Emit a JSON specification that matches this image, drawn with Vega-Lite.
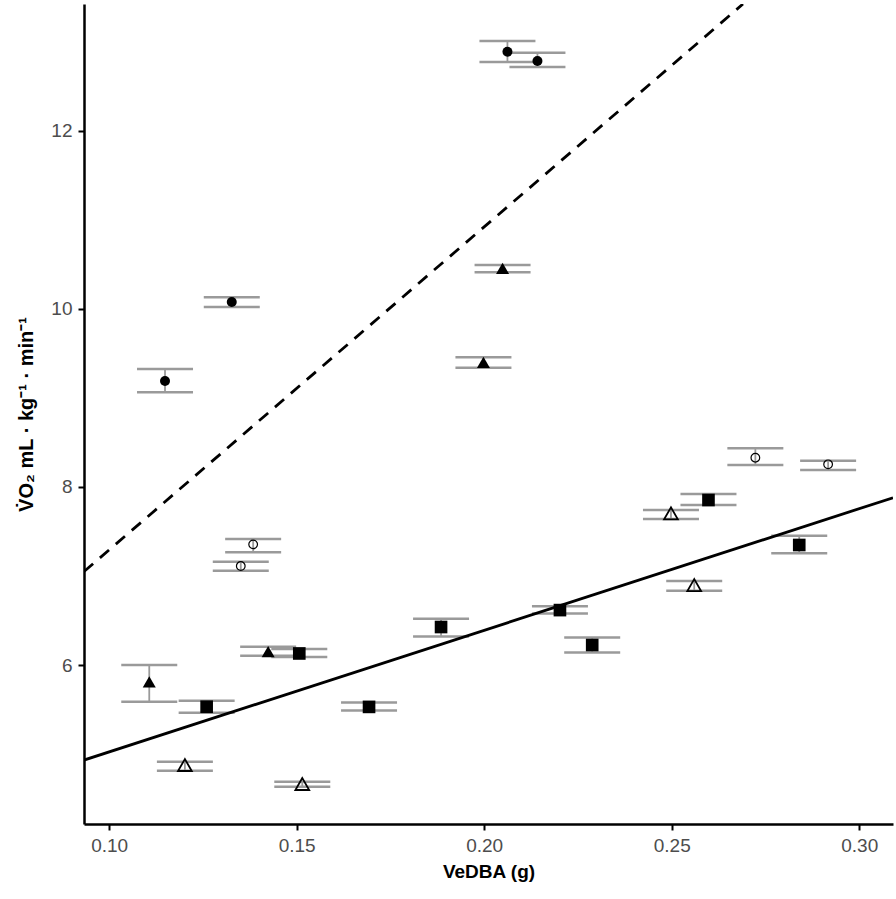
{
  "$schema": "https://vega.github.io/schema/vega-lite/v6.json",
  "width": 809,
  "height": 820,
  "autosize": {"type": "none"},
  "padding": {"left": 84, "top": 4, "right": 3, "bottom": 75},
  "background": "white",
  "config": {
    "view": {"stroke": null},
    "axis": {
      "grid": false,
      "domainColor": "black",
      "domainWidth": 2.5,
      "tickColor": "black",
      "tickWidth": 2,
      "tickSize": 6,
      "labelFont": "Liberation Sans",
      "labelFontSize": 19,
      "labelColor": "#4d4d4d",
      "titleFont": "Liberation Sans",
      "titleFontWeight": "bold",
      "titleFontSize": 19,
      "titleColor": "black"
    }
  },
  "datasets": {
    "pts": [
      {"group": "A", "x": 0.1149, "y": 9.19, "lo": 9.062, "hi": 9.324},
      {"group": "A", "x": 0.1327, "y": 10.076, "lo": 10.02, "hi": 10.13},
      {"group": "A", "x": 0.2062, "y": 12.887, "lo": 12.771, "hi": 13.007},
      {"group": "A", "x": 0.2142, "y": 12.783, "lo": 12.715, "hi": 12.876},
      {"group": "B", "x": 0.1107, "y": 5.81, "lo": 5.588, "hi": 6.0},
      {"group": "B", "x": 0.1424, "y": 6.15, "lo": 6.104, "hi": 6.205},
      {"group": "B", "x": 0.2049, "y": 10.455, "lo": 10.41, "hi": 10.492},
      {"group": "B", "x": 0.1998, "y": 9.399, "lo": 9.339, "hi": 9.455},
      {"group": "C", "x": 0.126, "y": 5.532, "lo": 5.464, "hi": 5.6},
      {"group": "C", "x": 0.1507, "y": 6.13, "lo": 6.09, "hi": 6.18},
      {"group": "C", "x": 0.1693, "y": 5.53, "lo": 5.49, "hi": 5.58},
      {"group": "C", "x": 0.1885, "y": 6.427, "lo": 6.32, "hi": 6.52},
      {"group": "C", "x": 0.2202, "y": 6.617, "lo": 6.58, "hi": 6.66},
      {"group": "C", "x": 0.2288, "y": 6.225, "lo": 6.14, "hi": 6.31},
      {"group": "C", "x": 0.2598, "y": 7.853, "lo": 7.796, "hi": 7.92},
      {"group": "C", "x": 0.284, "y": 7.348, "lo": 7.254, "hi": 7.452},
      {"group": "D", "x": 0.1202, "y": 4.877, "lo": 4.813, "hi": 4.914},
      {"group": "D", "x": 0.1515, "y": 4.664, "lo": 4.633, "hi": 4.69},
      {"group": "D", "x": 0.2498, "y": 7.703, "lo": 7.64, "hi": 7.74},
      {"group": "D", "x": 0.256, "y": 6.898, "lo": 6.834, "hi": 6.943},
      {"group": "E", "x": 0.1384, "y": 7.355, "lo": 7.266, "hi": 7.415},
      {"group": "E", "x": 0.1351, "y": 7.112, "lo": 7.059, "hi": 7.16},
      {"group": "E", "x": 0.2723, "y": 8.328, "lo": 8.246, "hi": 8.433},
      {"group": "E", "x": 0.2917, "y": 8.254, "lo": 8.19, "hi": 8.294}
    ],
    "lines": [
      {"fit": "dashed", "x": 0.0933, "y": 7.05},
      {"fit": "dashed", "x": 0.2690, "y": 13.423},
      {"fit": "solid", "x": 0.0933, "y": 4.933},
      {"fit": "solid", "x": 0.309, "y": 7.879}
    ]
  },
  "layer": [
    {
      "data": {"name": "pts"},
      "mark": {"type": "rule", "color": "#9a9a9a", "strokeWidth": 1.8},
      "encoding": {
        "x": {"field": "x", "type": "quantitative", "scale": {"domain": [0.0933, 0.309], "nice": false, "zero": false},
          "axis": {"values": [0.1, 0.15, 0.2, 0.25, 0.3], "format": ".2f", "title": "VeDBA (g)", "labelPadding": 6, "titlePadding": 7}},
        "y": {"field": "lo", "type": "quantitative", "scale": {"domain": [4.215, 13.423], "nice": false, "zero": false},
          "axis": {"values": [6, 8, 10, 12], "format": "d", "title": "V̇O₂ mL · kg⁻¹ · min⁻¹", "labelPadding": 6, "titlePadding": 14, "titleFontSize": 20}},
        "y2": {"field": "hi"}
      }
    },
    {
      "data": {"name": "pts"},
      "mark": {"type": "tick", "orient": "horizontal", "color": "#9a9a9a", "size": 56, "thickness": 2.5, "opacity": 1},
      "encoding": {
        "x": {"field": "x", "type": "quantitative"},
        "y": {"field": "lo", "type": "quantitative"}
      }
    },
    {
      "data": {"name": "pts"},
      "mark": {"type": "tick", "orient": "horizontal", "color": "#9a9a9a", "size": 56, "thickness": 2.5, "opacity": 1},
      "encoding": {
        "x": {"field": "x", "type": "quantitative"},
        "y": {"field": "hi", "type": "quantitative"}
      }
    },
    {
      "data": {"name": "lines"},
      "transform": [{"filter": "datum.fit === 'dashed'"}],
      "mark": {"type": "line", "color": "black", "strokeWidth": 2.8, "strokeDash": [12, 9], "clip": true},
      "encoding": {
        "x": {"field": "x", "type": "quantitative"},
        "y": {"field": "y", "type": "quantitative"}
      }
    },
    {
      "data": {"name": "lines"},
      "transform": [{"filter": "datum.fit === 'solid'"}],
      "mark": {"type": "line", "color": "black", "strokeWidth": 2.8, "clip": true},
      "encoding": {
        "x": {"field": "x", "type": "quantitative"},
        "y": {"field": "y", "type": "quantitative"}
      }
    },
    {
      "data": {"name": "pts"},
      "transform": [{"filter": "datum.group === 'A'"}],
      "mark": {"type": "point", "shape": "circle", "filled": true, "color": "black", "size": 100, "opacity": 1},
      "encoding": {"x": {"field": "x", "type": "quantitative"}, "y": {"field": "y", "type": "quantitative"}}
    },
    {
      "data": {"name": "pts"},
      "transform": [{"filter": "datum.group === 'B'"}],
      "mark": {"type": "point", "shape": "triangle-up", "filled": true, "color": "black", "size": 170, "opacity": 1},
      "encoding": {"x": {"field": "x", "type": "quantitative"}, "y": {"field": "y", "type": "quantitative"}}
    },
    {
      "data": {"name": "pts"},
      "transform": [{"filter": "datum.group === 'C'"}],
      "mark": {"type": "point", "shape": "square", "filled": true, "color": "black", "size": 160, "opacity": 1},
      "encoding": {"x": {"field": "x", "type": "quantitative"}, "y": {"field": "y", "type": "quantitative"}}
    },
    {
      "data": {"name": "pts"},
      "transform": [{"filter": "datum.group === 'D'"}],
      "mark": {"type": "point", "shape": "triangle-up", "filled": false, "color": "black", "strokeWidth": 1.8, "size": 190, "opacity": 1},
      "encoding": {"x": {"field": "x", "type": "quantitative"}, "y": {"field": "y", "type": "quantitative"}}
    },
    {
      "data": {"name": "pts"},
      "transform": [{"filter": "datum.group === 'E'"}],
      "mark": {"type": "point", "shape": "circle", "filled": false, "color": "black", "strokeWidth": 1.2, "size": 75, "opacity": 1},
      "encoding": {"x": {"field": "x", "type": "quantitative"}, "y": {"field": "y", "type": "quantitative"}}
    }
  ]
}
